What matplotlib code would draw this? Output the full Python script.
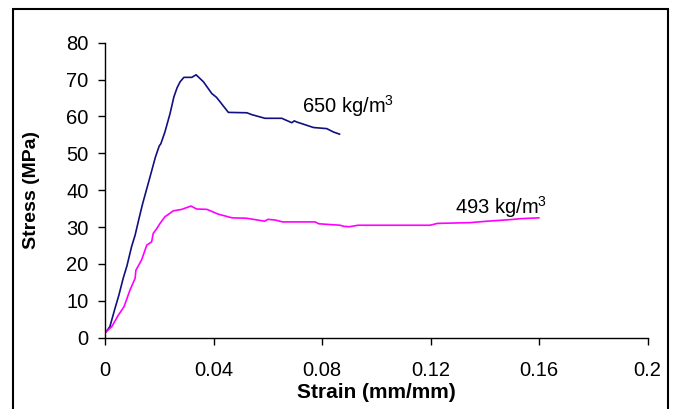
import matplotlib
matplotlib.use('Agg')
import matplotlib.pyplot as plt
from matplotlib.patches import Rectangle

plt.rcParams['font.family'] = ['Liberation Sans', 'DejaVu Sans']
plt.rcParams['mathtext.fontset'] = 'custom'
plt.rcParams['mathtext.rm'] = 'Liberation Sans'
plt.rcParams['mathtext.it'] = 'Liberation Sans'

strain_650 = [0.0003, 0.0017, 0.0036, 0.0050, 0.0066, 0.0080, 0.0097, 0.0110, 0.0125,
              0.0138, 0.0165, 0.0185, 0.0199, 0.0205, 0.0220, 0.0239, 0.0253, 0.0265,
              0.0276, 0.0290, 0.0319, 0.0335, 0.0362, 0.0393, 0.0410, 0.0423, 0.0454,
              0.0522, 0.0540, 0.0589, 0.0651, 0.0688, 0.0697, 0.0706, 0.0768, 0.0817,
              0.0841, 0.0864]
stress_650 = [1.6, 3.0, 8.0, 11.5, 16.1, 19.5, 24.7, 27.8, 32.5,
              36.4, 43.6, 49.0, 52.0, 52.6, 55.8, 60.8, 65.3, 67.8,
              69.4, 70.6, 70.6, 71.3, 69.4, 66.2, 65.2, 64.0, 61.1,
              61.0, 60.5, 59.5, 59.5, 58.3, 58.8, 58.5, 57.0, 56.7,
              55.8, 55.2]

strain_493 = [0.0003, 0.0024, 0.0048, 0.0069, 0.0076, 0.0091, 0.0110, 0.0113, 0.0134,
              0.0153, 0.0171, 0.0177, 0.0190, 0.0202, 0.0220, 0.0251, 0.0282, 0.0316,
              0.0337, 0.0375, 0.0417, 0.0468, 0.0521, 0.0588, 0.0600, 0.0628, 0.0654,
              0.0774, 0.0787, 0.0866, 0.0880, 0.0900, 0.0933, 0.1198, 0.1225, 0.1344,
              0.1410, 0.1490, 0.1536, 0.1599]
stress_493 = [1.6, 3.0, 6.1, 8.4, 9.8, 12.9, 16.1, 18.3, 21.1,
              25.1, 26.0, 28.3, 29.6, 31.0, 32.8, 34.4, 34.8, 35.7,
              34.9, 34.8, 33.5, 32.5, 32.4, 31.6, 32.1, 31.9, 31.4,
              31.4, 30.9, 30.5, 30.2, 30.1, 30.5, 30.5, 31.0, 31.2,
              31.6, 32.0, 32.3, 32.5]

x_ticks = [0, 0.04, 0.08, 0.12, 0.16, 0.2]
x_tick_labels = ['0', '0.04', '0.08', '0.12', '0.16', '0.2']
y_ticks = [0, 10, 20, 30, 40, 50, 60, 70, 80]

# Plotting :

fig = plt.figure(figsize=(6.74, 4.09), dpi=100)
ax = fig.add_axes([0.1562, 0.1743, 0.8045, 0.7213])

ax.plot(strain_650, stress_650, color='#101080', lw=1.2)
ax.plot(strain_493, stress_493, color='#ff00ff', lw=1.2)

ax.text(0.0726, 61.1, '650 kg/m$^3$', fontsize=14.5, ha='left', va='baseline')
ax.text(0.129, 33.7, '493 kg/m$^3$', fontsize=14.5, ha='left', va='baseline')

ax.set_xlim(0, 0.2)
ax.set_ylim(0, 80)
ax.set_xticks(x_ticks)
ax.set_xticklabels(x_tick_labels)
ax.set_yticks(y_ticks)

for side in ['top', 'right']:
    ax.spines[side].set_visible(False)
for side in ['left', 'bottom']:
    ax.spines[side].set_linewidth(1.0)
    ax.spines[side].set_clip_on(False)

ax.tick_params(direction='out', length=5, width=1.0, labelsize=14.5)
ax.tick_params(axis='x', pad=12)
ax.tick_params(axis='y', pad=7)

ax.set_xlabel('Strain (mm/mm)', fontsize=15, fontweight='bold', labelpad=2)
ax.set_ylabel('Stress (MPa)', fontsize=14, fontweight='bold', labelpad=19)

# Outer frame :

fig.patches.append(Rectangle((0.02, -0.02), 0.971, 0.998, transform=fig.transFigure,
                             fill=False, edgecolor='black', linewidth=1.5))

fig.savefig('out.png', dpi=100)
